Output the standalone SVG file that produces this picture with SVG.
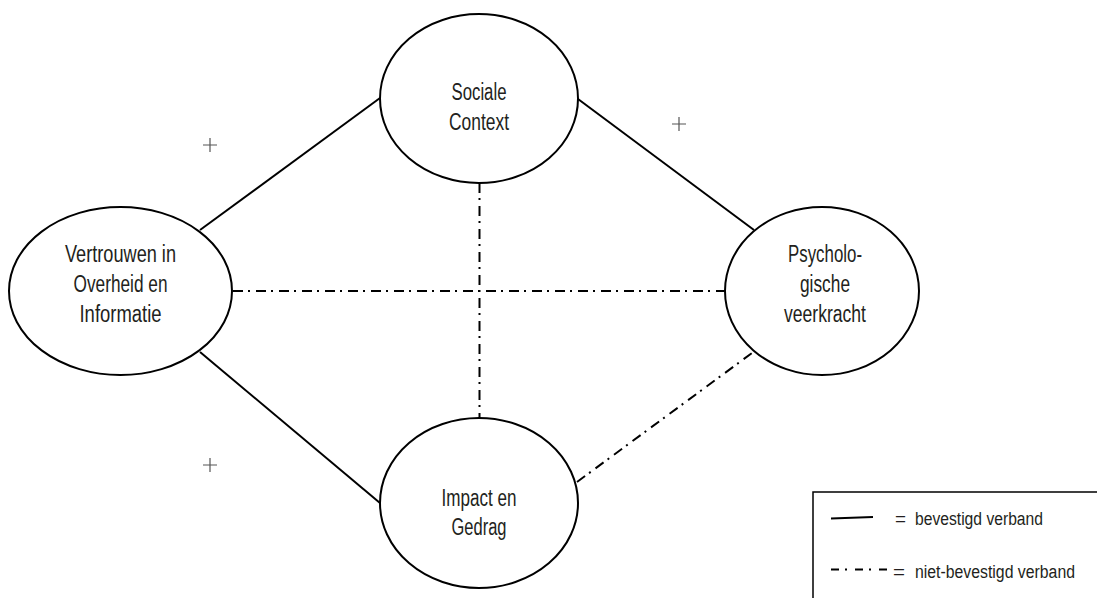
<svg xmlns="http://www.w3.org/2000/svg" width="1097" height="598" viewBox="0 0 1097 598">
<style>
.node{fill:#fff;stroke:#000;stroke-width:2}
.lbl{font-family:"Liberation Sans",Arial,sans-serif;font-size:23px;fill:#231f20;text-anchor:middle}
.leg{font-family:"Liberation Sans",Arial,sans-serif;font-size:18px;fill:#231f20}
.solid{stroke:#000;stroke-width:2;fill:none}
.dd{stroke:#000;stroke-width:2;fill:none;stroke-dasharray:10 5 2 6}
.plus{stroke:#555;stroke-width:1.2}
</style>
<rect width="1097" height="598" fill="#fff"/>
<g id="connectors">
<line class="solid" x1="200" y1="230" x2="380" y2="98"/>
<line class="solid" x1="578" y1="99" x2="754" y2="230"/>
<line class="solid" x1="200" y1="352" x2="380" y2="503"/>
<line class="dd" x1="233" y1="291" x2="725" y2="291"/>
<line class="dd" x1="479.5" y1="183" x2="479.5" y2="418"/>
<line class="dd" x1="577" y1="482" x2="752" y2="353"/>
</g>
<g id="sociale">
<ellipse class="node" cx="479" cy="98.5" rx="99" ry="84.5"/>
<text class="lbl" x="479" y="100" textLength="55" lengthAdjust="spacingAndGlyphs">Sociale</text>
<text class="lbl" x="479" y="130" textLength="60" lengthAdjust="spacingAndGlyphs">Context</text>
</g>
<g id="vertrouwen">
<ellipse class="node" cx="120.5" cy="291" rx="111.5" ry="84"/>
<text class="lbl" x="120.5" y="262" textLength="111" lengthAdjust="spacingAndGlyphs">Vertrouwen in</text>
<text class="lbl" x="120.5" y="292" textLength="94" lengthAdjust="spacingAndGlyphs">Overheid en</text>
<text class="lbl" x="120.5" y="322" textLength="82" lengthAdjust="spacingAndGlyphs">Informatie</text>
</g>
<g id="psychologische">
<ellipse class="node" cx="822" cy="291" rx="97" ry="84"/>
<text class="lbl" x="825" y="262" textLength="74" lengthAdjust="spacingAndGlyphs">Psycholo-</text>
<text class="lbl" x="825" y="292" textLength="50" lengthAdjust="spacingAndGlyphs">gische</text>
<text class="lbl" x="825" y="322" textLength="82" lengthAdjust="spacingAndGlyphs">veerkracht</text>
</g>
<g id="impact">
<ellipse class="node" cx="479" cy="503" rx="99" ry="85"/>
<text class="lbl" x="479" y="506" textLength="75" lengthAdjust="spacingAndGlyphs">Impact en</text>
<text class="lbl" x="479" y="535" textLength="55" lengthAdjust="spacingAndGlyphs">Gedrag</text>
</g>
<g id="signs">
<path class="plus" d="M203 145H217M210 138V152"/>
<path class="plus" d="M672 124H686M679 117V131"/>
<path class="plus" d="M203 465H217M210 458V472"/>
</g>
<g id="legend">
<rect x="813" y="492" width="300" height="130" fill="none" stroke="#000" stroke-width="1.5"/>
<line x1="831" y1="518.5" x2="873" y2="517" stroke="#000" stroke-width="2"/>
<text class="leg" x="895" y="525" textLength="11" lengthAdjust="spacingAndGlyphs">=</text>
<text class="leg" x="915" y="525" textLength="128" lengthAdjust="spacingAndGlyphs">bevestigd verband</text>
<line x1="831" y1="569.5" x2="887" y2="569.5" stroke="#000" stroke-width="2" stroke-dasharray="8 6 2 8"/>
<text class="leg" x="893" y="578" textLength="12" lengthAdjust="spacingAndGlyphs">=</text>
<text class="leg" x="915" y="578" textLength="160" lengthAdjust="spacingAndGlyphs">niet-bevestigd verband</text>
</g>
</svg>
